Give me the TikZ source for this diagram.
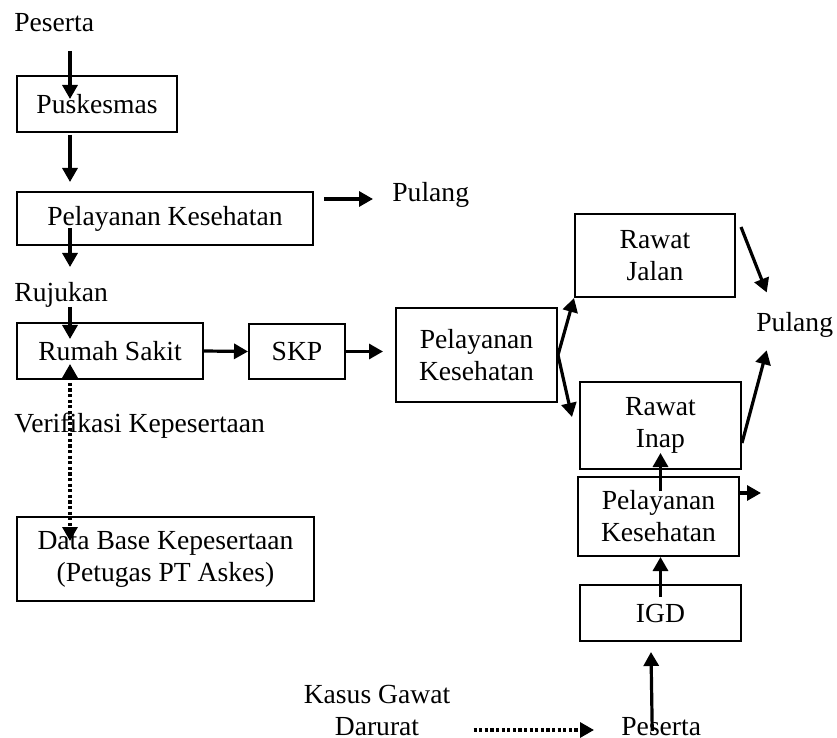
\documentclass[tikz,border=0pt]{standalone}
\usepackage{fontspec}
\setmainfont{Liberation Serif}
\usetikzlibrary{arrows.meta,calc}
\tikzset{>={Triangle[length=7pt,width=7.5pt]}}
\tikzset{
  kotak/.style={draw,line width=1pt,inner sep=0pt,align=center},
  teks/.style={inner sep=0pt,anchor=base west},
  panah/.style={->,line width=1.6pt},
  titik/.style={line width=1.6pt,dash pattern=on 1.6pt off 1.2pt}
}

\begin{document}
\begin{tikzpicture}[x=0.5pt,y=-0.5pt,font=\fontsize{13.8}{16}\selectfont]
\useasboundingbox (0,0) rectangle (837,738);
% Kotak
\node[kotak,minimum width=80pt,minimum height=28pt] (pusk) at (97,104) {Puskesmas};
\node[kotak,minimum width=148pt,minimum height=26.5pt] (pk1) at (165,218.5) {Pelayanan Kesehatan};
\node[kotak,minimum width=93pt,minimum height=28pt] (rs) at (110,351) {Rumah Sakit};
\node[kotak,minimum width=48pt,minimum height=27.5pt] (skp) at (297,351.5) {SKP};
\node[kotak,minimum width=80.5pt,minimum height=47pt] (pk2) at (476.5,355) {Pelayanan\\Kesehatan};
\node[kotak,minimum width=80pt,minimum height=41.5pt] (rj) at (655,255.5) {Rawat\\Jalan};
\node[kotak,minimum width=80.5pt,minimum height=43.5pt] (ri) at (660.5,425.5) {Rawat\\Inap};
\node[kotak,minimum width=80.5pt,minimum height=39.5pt] (pk3) at (658.5,516.5) {Pelayanan\\Kesehatan};
\node[kotak,minimum width=80.5pt,minimum height=28pt] (igd) at (660.5,613) {IGD};
\node[kotak,minimum width=148.5pt,minimum height=42pt] (db) at (165.5,559) {Data Base Kepesertaan\\(Petugas PT Askes)};
% Teks
\node[teks] (peserta1) at (14,32) {Peserta};
\node[teks] (pulang1) at (392,202) {Pulang};
\node[teks] (rujukan) at (14,301) {Rujukan};
\node[teks] (verif) at (14,432) {Verifikasi Kepesertaan};
\node[teks] (pulang2) at (756,332) {Pulang};
\node[teks] (peserta2) at (621,735) {Peserta};
\node[inner sep=0pt,align=center] (kasus) at (377,710) {Kasus Gawat\\Darurat};
% Panah
\draw[panah] ([xshift=27pt,yshift=12pt]pusk.north west) -- ([xshift=27pt,yshift=-12pt]pusk.north west);
\draw[panah] ([xshift=27pt,yshift=-1pt]pusk.south west) -- ([xshift=27pt,yshift=4.5pt]pk1.north west);
\draw[panah] ([xshift=27pt,yshift=9pt]pk1.south west) -- ([xshift=27pt,yshift=-10.5pt]pk1.south west);
\draw[panah] ([xshift=5pt,yshift=9.75pt]pk1.east) coordinate (p1) -- ($(pulang1.west |- p1)+(-9.5pt,0)$);
\draw[panah] ([xshift=27pt,yshift=7.5pt]rs.north west) -- ([xshift=27pt,yshift=-8.5pt]rs.north west);
\draw[panah] (rs.east) -- (skp.west);
\draw[panah] (skp.east) -- ($(pk2.west |- skp.east)+(-6pt,0)$);
\draw[panah] (pk2.east) -- (rj.south west);
\draw[panah] (pk2.east) -- ([shift={(-3.5pt,-18pt)}]ri.north west);
\draw[panah] ([shift={(2.5pt,-7pt)}]rj.north east) -- ([shift={(-14pt,10pt)}]pulang2.north);
\draw[panah] ([yshift=-8.75pt]ri.east) -- ([shift={(-14pt,-6pt)}]pulang2.south);
\draw[panah] ($(ri.south |- pk3.north)+(0,-7.5pt)$) -- ([yshift=8.5pt]ri.south);
\draw[panah] ([yshift=11.75pt]pk3.east) -- ++(10.5pt,0) coordinate (p3);
\draw[panah] ([yshift=-6.5pt]igd.north) -- (igd.north |- pk3.south);
\draw[panah] ([shift={(-4.5pt,2pt)}]peserta2.base) -- ([shift={(-4.75pt,-5pt)}]igd.south);
% Garis titik
\draw[titik,->] ($(kasus.east |- peserta2.base)+(11.5pt,2.5pt)$) -- ([shift={(-13.5pt,2.5pt)}]peserta2.base west);
\draw[titik,<->] ([xshift=27pt,yshift=8pt]rs.south west) -- ([xshift=27pt,yshift=-12.5pt]db.north west);
\end{tikzpicture}
\end{document}
